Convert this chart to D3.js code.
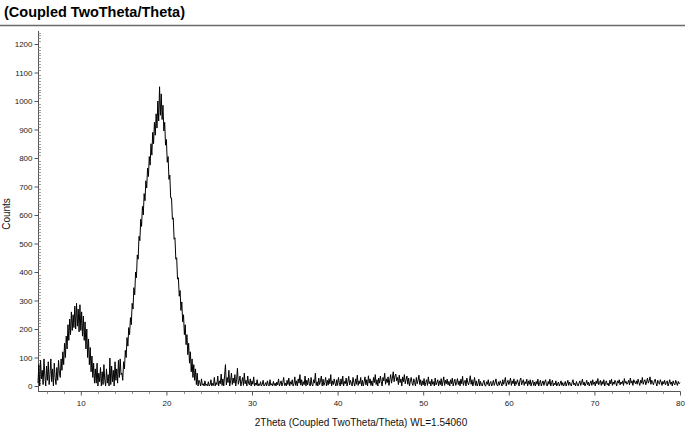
<!DOCTYPE html>
<html>
<head>
<meta charset="utf-8">
<script src="https://cdn.jsdelivr.net/npm/d3@7"></script>
<style>
  html, body { margin: 0; padding: 0; background: #fff; }
  svg { display: block; font-family: "Liberation Sans", Arial, sans-serif; }
</style>
</head>
<body>
<svg id="chart" width="685" height="429"></svg>
<script>
// ---- data ----
const chartTitle = "(Coupled TwoTheta/Theta)";
const xAxisTitle = "2Theta (Coupled TwoTheta/Theta) WL=1.54060";
const yAxisTitle = "Counts";

const twoThetaStart = 5.0;   // first measured angle
const twoThetaStep = 0.1;    // scan step

// 5.0 – 14.7
const countsLowAngle = [
  10,75,0,90,25,55,5,95,35,0,
  70,20,85,5,40,95,15,60,0,80,
  30,5,65,20,90,45,
  30,95,55,120,75,150,100,175,130,215,
  160,235,180,260,195,250,205,280,200,290,
  210,270,190,285,195,260,175,245,160,225,
  130,200,100,165,75,135,50,105,30,
  80,10,60,10,80,0,45,15,65,0,
  50,5,75,20,0,60,10,40,0,98,
  5,70,15,55,0,85,20,60,10,90,
  30,95,40
];
// 14.8 – 23.8
const countsMainPeak = [
  45,20,85,60,125,100,170,140,205,180,
  240,215,290,270,345,320,400,380,460,445,
  525,510,585,560,630,600,675,650,720,695,
  765,735,805,775,850,810,890,850,925,880,
  955,905,1000,930,1050,950,1025,935,985,895,
  925,845,865,785,805,725,740,660,660,585,
  590,515,520,445,450,375,380,315,335,265,
  295,225,250,180,215,145,180,110,150,80,
  120,50,95,30,75,20,60,5,45,0,
  20
];
// 23.9 – 80.0
const countsBaseline = [
  12,0,25,3,8,0,18,2,6,0,
  15,0,4,22,0,9,2,30,0,12,
  5,35,0,18,8,42,2,25,0,38,
  75,4,30,12,55,0,20,45,5,28,
  10,40,0,22,62,6,18,35,0,15,
  30,2,45,8,20,0,35,10,4,25,
  0,18,6,32,0,10,3,22,0,8,
  2,15,0,6,20,0,4,12,0,18,
  5,0,22,3,8,0,16,2,10,0,
  14,4,25,0,8,18,0,12,30,2,
  10,0,20,5,28,0,15,6,22,0,
  8,32,2,18,0,25,10,40,3,22,
  0,15,5,35,0,20,4,28,8,0,
  30,6,0,22,10,45,2,15,0,28,
  5,18,35,0,24,2,12,30,0,20,
  3,26,8,40,0,18,5,25,10,0,
  22,2,30,12,0,25,6,35,0,16,
  8,28,0,15,34,4,20,10,0,30,
  12,0,25,6,38,2,18,8,30,0,
  20,0,15,32,4,22,0,36,10,25,
  2,18,0,30,12,40,5,22,0,28,
  10,35,15,0,30,18,45,6,25,12,
  32,2,22,40,10,28,50,15,35,42,
  18,30,5,38,12,25,0,32,15,40,
  8,22,35,6,28,0,18,30,10,2,
  25,12,0,30,8,20,38,5,22,0,
  18,4,26,0,12,22,2,32,8,16,
  0,24,6,15,0,28,4,12,22,0,
  18,5,26,0,14,32,2,20,8,24,
  4,16,0,22,8,28,0,14,24,2,
  12,26,5,18,0,24,8,34,2,15,
  20,0,28,12,4,18,36,6,22,0,
  14,30,2,18,0,8,24,0,16,5,
  0,12,20,2,0,15,6,22,0,10,
  16,0,8,20,2,12,25,4,0,15,
  3,18,10,0,22,6,16,30,0,12,
  20,5,14,28,2,18,8,25,0,16,
  6,22,12,0,20,28,4,14,22,2,
  15,8,24,0,18,6,22,0,12,20,
  2,14,0,16,6,24,0,12,20,0,
  10,18,2,14,22,4,0,16,6,24,
  0,12,20,0,10,4,18,0,8,14,
  0,8,18,2,12,0,6,16,0,10,
  20,2,14,6,0,12,22,4,10,0,
  16,6,0,10,18,2,12,24,4,14,
  0,8,20,4,14,0,10,18,2,22,
  6,14,0,18,8,26,4,12,20,2,
  16,6,22,0,12,18,4,10,0,20,
  8,24,2,14,6,20,12,0,18,10,
  22,4,14,8,18,2,26,10,16,6,
  12,20,4,28,10,18,2,22,14,8,
  18,6,24,12,2,20,10,30,6,16,
  22,4,14,28,10,18,32,6,20,12,
  4,18,24,10,0,20,12,6,22,14,
  2,16,8,20,4,12,18,0,10,22,
  6,14,0,18,8,4,20,10,2,16,
  8,12
];

const xTickValues = [10, 20, 30, 40, 50, 60, 70, 80];
const yTickValues = [0, 100, 200, 300, 400, 500, 600, 700, 800, 900, 1000, 1100, 1200];
const xDomain = [5, 80];
const yDomain = [0, 1200];

// ---- build series ----
const allCounts = countsLowAngle.concat(countsMainPeak, countsBaseline);
const pattern = allCounts.map((c, i) => ({ t: +(twoThetaStart + i * twoThetaStep).toFixed(2), c }));

// ---- drawing ----
const svg = d3.select("#chart");
const W = 685, H = 429;
svg.append("rect").attr("width", W).attr("height", H).attr("fill", "#fff");

const x = d3.scaleLinear().domain(xDomain).range([38, 680]);
const y = d3.scaleLinear().domain(yDomain).range([386, 44]);

// title
svg.append("text")
  .attr("x", 4).attr("y", 17)
  .attr("font-size", 14.5).attr("font-weight", "bold").attr("fill", "#000")
  .text(chartTitle);
svg.append("line")
  .attr("x1", 0).attr("x2", W).attr("y1", 25.5).attr("y2", 25.5)
  .attr("stroke", "#6a6a6a").attr("stroke-width", 1.5);

const axisColor = "#555";
const axisBottomY = 391;

// Y axis: minor ticks
const yMinor = d3.range(0, 1250, 10).filter(v => v % 100 !== 0 && v <= 1240);
const yAx = svg.append("g").attr("transform", "translate(38.5,0)");
yAx.append("line").attr("x1", 0).attr("x2", 0).attr("y1", axisBottomY).attr("y2", 31)
  .attr("stroke", axisColor).attr("stroke-width", 1);
yAx.selectAll("line.minor").data(yMinor).join("line").attr("class", "minor")
  .attr("x1", 0).attr("x2", 2.5)
  .attr("y1", d => Math.round(y(d)) + 0.5).attr("y2", d => Math.round(y(d)) + 0.5)
  .attr("stroke", "#888").attr("stroke-width", 0.8);
const yAxis = d3.axisLeft(y).tickValues(yTickValues).tickSize(4).tickPadding(2).tickFormat(d3.format("d"));
const yG = svg.append("g").attr("transform", "translate(38.5,0)").call(yAxis);
yG.select(".domain").remove();
yG.selectAll(".tick line").attr("stroke", axisColor).attr("x2", -4);
yG.selectAll(".tick text").attr("font-size", 8).attr("fill", "#222")
  .attr("font-family", "Liberation Sans, Arial, sans-serif");

// X axis
const xMinor = d3.range(6, 80, 2).filter(v => v % 10 !== 0);
const xAx = svg.append("g").attr("transform", `translate(0,${axisBottomY + 0.5})`);
xAx.append("line").attr("x1", 38).attr("x2", 680.5).attr("y1", 0).attr("y2", 0)
  .attr("stroke", axisColor).attr("stroke-width", 1);
xAx.selectAll("line.minor").data(xMinor).join("line").attr("class", "minor")
  .attr("x1", d => Math.round(x(d)) + 0.5).attr("x2", d => Math.round(x(d)) + 0.5)
  .attr("y1", 0).attr("y2", 2.5).attr("stroke", "#777").attr("stroke-width", 0.8);
const xAxis = d3.axisBottom(x).tickValues(xTickValues).tickSize(4).tickPadding(5).tickFormat(d3.format("d"));
const xG = svg.append("g").attr("transform", `translate(0,${axisBottomY + 0.5})`).call(xAxis);
xG.select(".domain").remove();
xG.selectAll(".tick line").attr("stroke", axisColor);
xG.selectAll(".tick text").attr("font-size", 8).attr("fill", "#222")
  .attr("font-family", "Liberation Sans, Arial, sans-serif");

// axis titles
svg.append("text")
  .attr("x", 361).attr("y", 426).attr("text-anchor", "middle")
  .attr("font-size", 10).attr("fill", "#111").text(xAxisTitle);
svg.append("text")
  .attr("transform", "translate(10,214) rotate(-90)").attr("text-anchor", "middle")
  .attr("font-size", 10).attr("fill", "#111").text(yAxisTitle);

// pattern line
const line = d3.line().x(d => x(d.t)).y(d => y(d.c));
svg.append("path").datum(pattern)
  .attr("d", line).attr("fill", "none")
  .attr("stroke", "#000").attr("stroke-width", 1).attr("stroke-linejoin", "miter");
</script>
</body>
</html>
